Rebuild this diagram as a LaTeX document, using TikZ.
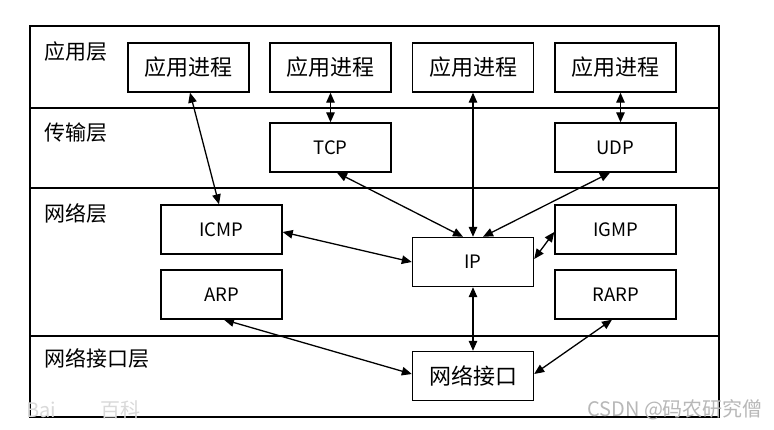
\documentclass[tikz,border=0pt]{standalone}
\usepackage{fontspec}
\setmainfont{Noto Sans CJK SC}
\usetikzlibrary{arrows.meta}
\tikzset{
  box/.style={draw, line width=1.4pt, minimum width=121pt, minimum height=49pt, inner sep=0pt, font=\fontsize{22}{22}\selectfont},
  lbox/.style={box, font=\fontsize{18.5}{18.5}\selectfont},
  layer/.style={anchor=west, inner sep=0pt, font=\fontsize{21}{21}\selectfont},
  arr/.style={line width=1.3pt, {Triangle[length=10pt,width=8.5pt]}-{Triangle[length=10pt,width=8.5pt]}},
  frame/.style={line width=1.4pt},
  wm/.style={inner sep=0pt, text=black!28, font=\fontsize{20}{20}\selectfont}
}
\begin{document}
\begin{tikzpicture}[x=1pt,y=-1pt]
\useasboundingbox (0,0) rectangle (774,430);
\fill[white] (0,0) rectangle (774,430);
% frame and layer separators
\draw[frame] (30,26) rectangle (719,417);
\draw[frame] (30,108) -- (719,108);
\draw[frame] (30,188) -- (719,188);
\draw[frame] (30,336) -- (719,336);
% layer labels
\node[layer] (L1) at (44,52) {应用层};
\node[layer] (L2) at (44,133) {传输层};
\node[layer] (L3) at (44,213) {网络层};
\node[layer] (L4) at (44,358) {网络接口层};
% boxes
\node[box] (app1) at (188.5,67.5) {应用进程};
\node[box] (app2) at (330.5,67.5) {应用进程};
\node[box] (app3) at (473,67.5) {应用进程};
\node[box] (app4) at (615.5,67.5) {应用进程};
\node[lbox] (tcp) at (330.5,147.5) {TCP};
\node[lbox] (udp) at (615.5,147.5) {UDP};
\node[lbox] (icmp) at (221.5,229.5) {ICMP};
\node[lbox] (arp) at (221.5,294.5) {ARP};
\node[lbox] (ip) at (473,262) {IP};
\node[lbox] (igmp) at (615.5,229.5) {IGMP};
\node[lbox] (rarp) at (615.5,294.5) {RARP};
\node[box] (ni) at (473,376) {网络接口};
% connectors
\draw[arr] ([xshift=1.5pt]app1.south) -- ([xshift=-2.5pt]icmp.north);
\draw[arr] (app2.south) -- (tcp.north);
\draw[arr] (app3.south) -- (ip.north);
\draw[arr] ([xshift=5pt]app4.south) -- ([xshift=5pt]udp.north);
\draw[arr] ([xshift=6.5pt]tcp.south) -- ([xshift=-10pt]ip.north);
\draw[arr] ([xshift=-5.5pt]udp.south) -- ([xshift=10pt]ip.north);
\draw[arr] ([yshift=-2.5pt]icmp.east) -- (ip.west);
\draw[arr] ([yshift=-2.5pt]igmp.west) -- ([yshift=3pt]ip.east);
\draw[arr] (ip.south) -- (ni.north);
\draw[arr] ([xshift=2.5pt]arp.south) -- ([yshift=2pt]ni.west);
\draw[arr] ([xshift=-3.5pt]rarp.south) -- ([yshift=2pt]ni.east);
% watermarks
\node[wm, anchor=west] (wm1) at (587,410) {CSDN @码农研究僧};
\node[wm, anchor=west, text=black!15] (wm2) at (26,410) {Bai};
\node[wm, anchor=west, text=black!15] (wm3) at (100,410) {百科};
\end{tikzpicture}
\end{document}
